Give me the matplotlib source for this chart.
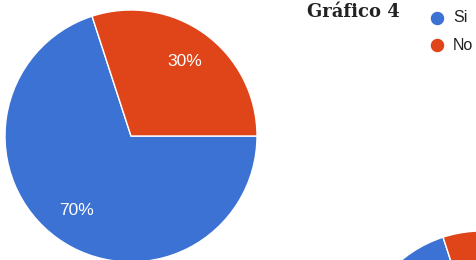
import matplotlib.pyplot as plt

# data
labels = ["Si", "No"]
values = [70, 30]
colors = ["#3c72d3", "#df4519"]
title = "Gráfico 4"

W, H = 476, 260
fig = plt.figure(figsize=(W / 100, H / 100), dpi=100)
ax = fig.add_axes([0, 0, 1, 1])

# main pie (center in pixel coords, y up)
ax.pie(values, colors=colors, startangle=108, counterclock=True,
       center=(131, H - 136), radius=126,
       autopct="%1.0f%%", pctdistance=0.73,
       wedgeprops=dict(edgecolor="white", linewidth=1),
       textprops=dict(color="white", fontsize=12.5, family="Liberation Sans"))

# next chart peeking in at the bottom right
ax.pie(values, colors=colors, startangle=108, counterclock=True,
       center=(482, H - 357), radius=126,
       wedgeprops=dict(edgecolor="white", linewidth=1))

ax.set_xlim(0, W)
ax.set_ylim(0, H)
ax.set_aspect("equal")
ax.axis("off")

ax.text(307, H - 17, title, fontsize=13, fontweight="bold", family="DejaVu Serif",
        color="#222222", va="baseline", ha="left")

# legend
for i, (lab, col) in enumerate(zip(labels, colors)):
    y = H - 18 - i * 27
    ax.scatter([437], [y], s=75, color=col, zorder=5)
    ax.text(453, y, lab, fontsize=11.5, family="Liberation Sans", color="#222222",
            va="center", ha="left")

fig.savefig("out.png", dpi=100)
